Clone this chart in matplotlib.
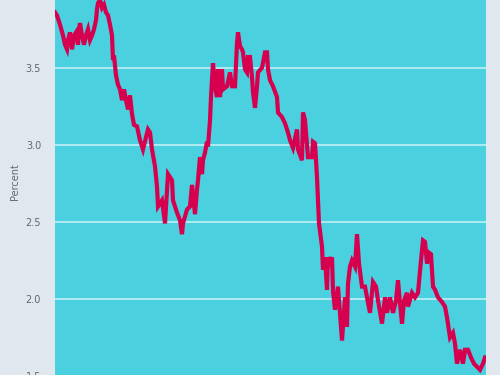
import matplotlib
matplotlib.use("Agg")
import matplotlib.pyplot as plt

# time index (arbitrary units) and rate in percent
t = [0, 2, 5, 8, 10, 12, 13, 15, 17, 19, 21, 23, 24, 25, 27, 29, 31, 33, 35, 37,
     39, 41, 42, 43, 45, 47, 49, 51, 53, 55, 57, 58, 59, 61, 63, 65, 67, 69, 71, 73,
     75, 77, 79, 82, 85, 88, 91, 93, 95, 97, 100, 102, 103, 107, 110, 112, 113, 117, 118, 122,
     125, 127, 128, 132, 135, 137, 140, 142, 143, 145, 147, 148, 150, 152, 153, 155, 156, 158, 160, 162,
     163, 165, 167, 168, 172, 175, 177, 180, 182, 183, 185, 187, 188, 190, 192, 193, 195, 197, 198, 200,
     202, 203, 207, 210, 212, 213, 215, 218, 222, 223, 227, 230, 233, 235, 238, 242, 243, 247, 248, 250,
     253, 257, 258, 260, 262, 264, 267, 268, 270, 272, 273, 275, 277, 278, 280, 283, 287, 290, 292, 293,
     295, 297, 300, 302, 304, 307, 310, 312, 315, 318, 321, 323, 327, 330, 332, 335, 338, 341, 343, 345,
     347, 349, 352, 353, 357, 360, 363, 366, 368, 370, 372, 374, 376, 378, 380, 383, 387, 390, 392, 395,
     398, 400, 402, 405, 408, 410, 413, 416, 419, 422, 425, 428, 430]
rate = [3.86, 3.84, 3.78, 3.71, 3.65, 3.62, 3.68, 3.73, 3.62, 3.71, 3.73, 3.65, 3.75, 3.79, 3.71, 3.65, 3.71, 3.75, 3.68, 3.71,
        3.75, 3.81, 3.88, 3.92, 3.94, 3.89, 3.91, 3.86, 3.84, 3.78, 3.71, 3.55, 3.58, 3.45, 3.39, 3.36, 3.29, 3.36, 3.29, 3.23,
        3.32, 3.20, 3.13, 3.12, 3.03, 2.97, 3.05, 3.10, 3.08, 2.97, 2.86, 2.73, 2.60, 2.64, 2.49, 2.71, 2.81, 2.77, 2.64, 2.56,
        2.51, 2.42, 2.49, 2.58, 2.60, 2.74, 2.55, 2.71, 2.77, 2.92, 2.81, 2.90, 2.95, 3.02, 2.99, 3.16, 3.31, 3.53, 3.38, 3.31,
        3.49, 3.31, 3.49, 3.36, 3.38, 3.47, 3.38, 3.38, 3.66, 3.73, 3.64, 3.62, 3.60, 3.49, 3.47, 3.57, 3.57, 3.44, 3.34, 3.24,
        3.38, 3.47, 3.50, 3.60, 3.60, 3.49, 3.42, 3.38, 3.31, 3.21, 3.18, 3.14, 3.08, 3.03, 2.98, 3.10, 2.97, 2.90, 3.21, 3.16,
        2.92, 2.92, 3.02, 3.01, 2.79, 2.49, 2.34, 2.19, 2.27, 2.06, 2.27, 2.24, 2.27, 2.05, 1.93, 2.08, 1.73, 2.01, 1.82, 2.10,
        2.21, 2.25, 2.21, 2.42, 2.23, 2.08, 2.08, 2.01, 1.91, 2.11, 2.08, 1.99, 1.84, 2.01, 1.91, 2.01, 1.91, 1.99, 2.12, 1.97,
        1.84, 1.99, 2.04, 1.95, 2.04, 2.01, 2.04, 2.25, 2.38, 2.37, 2.23, 2.30, 2.29, 2.08, 2.06, 2.01, 1.98, 1.95, 1.88, 1.75,
        1.78, 1.71, 1.58, 1.67, 1.58, 1.67, 1.67, 1.62, 1.58, 1.56, 1.54, 1.58, 1.62]
yticks = [1.5, 2.0, 2.5, 3.0, 3.5]

fig = plt.figure(figsize=(5, 3.75), dpi=100, facecolor="#e1e7ef")
ax = fig.add_axes([0.11, -0.0437, 0.862, 1.0437])
ax.set_facecolor("#4bd0e0")

ax.plot(t, rate, color="#d6004f", lw=3.0, solid_joinstyle="miter")

ax.set_xlim(0, 431)
ax.set_ylim(1.4, 3.94)
ax.set_yticks(yticks)
ax.set_yticklabels([f"{v:.1f}" for v in yticks])
ax.set_xticks([])
ax.grid(axis="y", color="white", lw=1.1, alpha=0.7)
ax.set_axisbelow(True)
ax.tick_params(axis="y", length=0, pad=10, labelsize=7, labelcolor="#666666")
for s in ax.spines.values():
    s.set_visible(False)
ax.set_ylabel("Percent", fontsize=7, color="#666666")
ax.yaxis.set_label_coords(-0.082, 0.535)

fig.savefig("out.png", dpi=100, facecolor=fig.get_facecolor())
